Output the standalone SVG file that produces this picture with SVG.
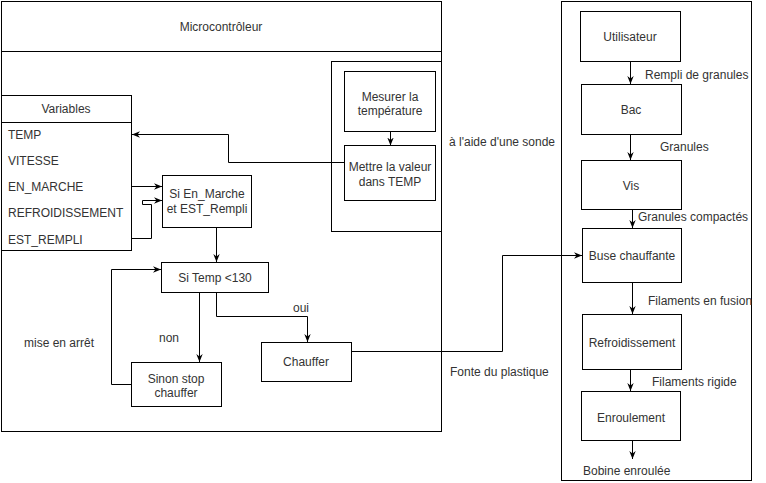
<svg xmlns="http://www.w3.org/2000/svg" width="766" height="483" viewBox="0 0 766 483">
<defs>
<marker id="arr" viewBox="0 0 10 10" refX="10" refY="5" markerWidth="8" markerHeight="8" orient="auto" markerUnits="userSpaceOnUse">
<path d="M0,1 L10,5 L0,9 L3,5 Z" fill="#000"/>
</marker>
<style>
.b{fill:#fff;stroke:#000;stroke-width:1}
.n{fill:none;stroke:#000;stroke-width:1}
.c{fill:none;stroke:#000;stroke-width:1;marker-end:url(#arr)}
text{font-family:"Liberation Sans",Arial,sans-serif;font-size:12px;fill:#333}
.m{text-anchor:middle}
</style>
</defs>
<rect x="0" y="0" width="766" height="483" fill="#fff"/>

<g id="microcontroleur">
<rect class="b" x="1.5" y="1.5" width="440" height="430"/>
<line class="n" x1="1.5" y1="51.5" x2="441.5" y2="51.5"/>
<text class="m" x="221" y="31">Microcontrôleur</text>
</g>
<g id="sonde-group">
<rect class="n" x="331.5" y="61.5" width="110" height="170"/>
</g>
<g id="variables">
<rect class="b" x="1.5" y="95.5" width="130" height="155"/>
<line class="n" x1="1.5" y1="122.5" x2="131.5" y2="122.5"/>
<text class="m" x="66" y="113">Variables</text>
<text x="8" y="139">TEMP</text>
<text x="8" y="165">VITESSE</text>
<text x="8" y="191">EN_MARCHE</text>
<text x="8" y="217">REFROIDISSEMENT</text>
<text x="8" y="244">EST_REMPLI</text>
</g>
<g id="mesurer">
<rect class="b" x="344.5" y="71.5" width="91" height="60"/>
<text class="m" x="390" y="101">Mesurer la</text>
<text class="m" x="390" y="115">température</text>
</g>
<g id="mettre">
<rect class="b" x="344.5" y="145.5" width="91" height="55"/>
<text class="m" x="390" y="171">Mettre la valeur</text>
<text class="m" x="390" y="186">dans TEMP</text>
</g>
<g id="si-en-marche">
<rect class="b" x="162.5" y="175.5" width="89" height="52"/>
<text class="m" x="207" y="198">Si En_Marche</text>
<text class="m" x="207" y="213">et EST_Rempli</text>
</g>
<g id="si-temp">
<rect class="b" x="161.5" y="262.5" width="107" height="30"/>
<text class="m" x="215" y="282">Si Temp &lt;130</text>
</g>
<g id="sinon">
<rect class="b" x="131.5" y="362.5" width="90" height="44"/>
<text class="m" x="176" y="383">Sinon stop</text>
<text class="m" x="176" y="397">chauffer</text>
</g>
<g id="chauffer">
<rect class="b" x="261.5" y="342.5" width="90" height="39"/>
<text class="m" x="306" y="366">Chauffer</text>
</g>

<g id="process">
<rect class="b" x="561.5" y="1.5" width="190" height="479"/>
</g>
<g id="utilisateur">
<rect class="b" x="580.5" y="11.5" width="100" height="50"/>
<text class="m" x="630" y="41">Utilisateur</text>
</g>
<g id="bac">
<rect class="b" x="581.5" y="84.5" width="100" height="50"/>
<text class="m" x="631" y="114">Bac</text>
</g>
<g id="vis">
<rect class="b" x="581.5" y="160.5" width="100" height="49"/>
<text class="m" x="631" y="190">Vis</text>
</g>
<g id="buse">
<rect class="b" x="582.5" y="228.5" width="99" height="54"/>
<text class="m" x="632" y="260">Buse chauffante</text>
</g>
<g id="refroidissement">
<rect class="b" x="582.5" y="314.5" width="99" height="55"/>
<text class="m" x="632" y="347">Refroidissement</text>
</g>
<g id="enroulement">
<rect class="b" x="581.5" y="391.5" width="99" height="49"/>
<text class="m" x="631" y="422">Enroulement</text>
</g>

<g id="connectors">
<path class="c" d="M390.5,131.5 V145.5"/>
<path class="c" d="M344.5,162.5 H228.5 V134.5 H132"/>
<path class="c" d="M131.5,186.5 H162"/>
<path class="c" d="M131.5,238.5 H151.5 V204.5 H142.5 V200.5 H162"/>
<path class="c" d="M216.5,227.5 V262"/>
<path class="c" d="M199.5,292.5 V362"/>
<path class="c" d="M216.5,292.5 V316.5 H307.5 V342"/>
<path class="c" d="M131.5,384.5 H111.5 V269.5 H161"/>
<path class="c" d="M351.5,351.5 H502.5 V255.5 H582"/>
<path class="c" d="M630.5,61.5 V84"/>
<path class="c" d="M630.5,134.5 V160"/>
<path class="c" d="M632.5,209.5 V228"/>
<path class="c" d="M632.5,282.5 V314"/>
<path class="c" d="M630.5,369.5 V391"/>
<path class="c" d="M632.5,440.5 V459"/>
</g>

<g id="labels">
<text x="449" y="146">à l'aide d'une sonde</text>
<text x="293" y="312">oui</text>
<text x="159" y="342">non</text>
<text x="24" y="347">mise en arrêt</text>
<text x="450" y="376">Fonte du plastique</text>
<text x="645" y="79">Rempli de granules</text>
<text x="660" y="151">Granules</text>
<text x="638" y="221">Granules compactés</text>
<text x="648" y="305">Filaments en fusion</text>
<text x="652" y="386">Filaments rigide</text>
<text x="583" y="475">Bobine enroulée</text>
</g>
</svg>
